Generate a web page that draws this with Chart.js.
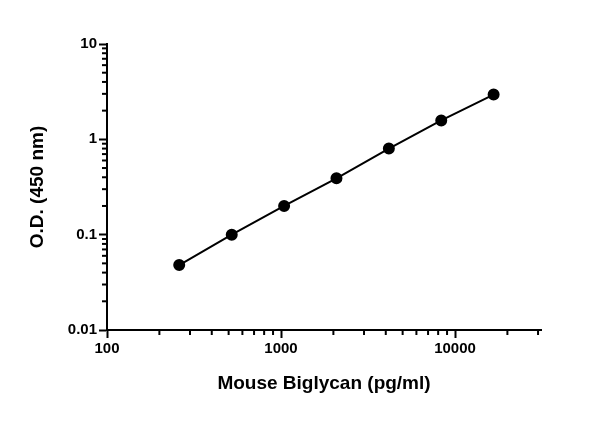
<!DOCTYPE html><html><head><script src="https://cdn.jsdelivr.net/npm/chart.js@4"></script>
<style>body{margin:0;background:#fff}#w{width:600px;height:421px}</style></head><body><div id="w"><canvas id="c"></canvas></div>
<script>
const concentrations=[260,521,1042,2083,4167,8333,16667];
const odValues=[0.048,0.1,0.2,0.39,0.8,1.58,2.95];
const xTicks=[100,1000,10000];
const yTicks=[0.01,0.1,1,10];
const minorTicks={
  id:'minor',
  afterDraw(ch){
    const c=ch.ctx,x=ch.scales.x,y=ch.scales.y,a=ch.chartArea;
    c.save();c.strokeStyle='#000';c.lineWidth=2;
    for(let e=2;e<5;e++)for(let m=2;m<10;m++){const v=m*Math.pow(10,e);if(v>x.max)break;const p=x.getPixelForValue(v);c.beginPath();c.moveTo(p,a.bottom);c.lineTo(p,a.bottom+5);c.stroke();}
    for(let e=-2;e<1;e++)for(let m=2;m<10;m++){const p=y.getPixelForValue(m*Math.pow(10,e));c.beginPath();c.moveTo(a.left,p);c.lineTo(a.left-5,p);c.stroke();}
    c.restore();
  }};
const font={family:'Liberation Sans',weight:'bold',size:15};
const grid={display:true,drawOnChartArea:false,drawTicks:true,tickLength:8,tickColor:'#000',tickWidth:2};
new Chart(document.getElementById('c'),{type:'scatter',
 data:{datasets:[{data:concentrations.map((v,i)=>({x:v,y:odValues[i]})),showLine:true,borderColor:'#000',backgroundColor:'#000',borderWidth:2,pointRadius:5,tension:0}]},
 options:{responsive:true,maintainAspectRatio:false,animation:false,
  layout:{padding:{left:26,top:44,right:59,bottom:26}},
  plugins:{legend:{display:false},tooltip:{enabled:false}},
  scales:{
   x:{type:'logarithmic',min:100,max:31200,
    afterBuildTicks:s=>{s.ticks=xTicks.map(v=>({value:v}))},
    afterFit:s=>{s.height=65},
    border:{color:'#000',width:2},grid,
    ticks:{color:'#000',font,callback:v=>String(v),maxRotation:0,padding:2},
    title:{display:true,text:'Mouse Biglycan (pg/ml)',color:'#000',font:{family:'Liberation Sans',weight:'bold',size:19},padding:0}},
   y:{type:'logarithmic',min:0.01,max:10,
    afterBuildTicks:s=>{s.ticks=yTicks.map(v=>({value:v}))},
    afterFit:s=>{s.width=81},
    border:{color:'#000',width:2},grid,
    ticks:{color:'#000',font,callback:v=>String(v),padding:2},
    title:{display:true,text:'O.D. (450 nm)',color:'#000',font:{family:'Liberation Sans',weight:'bold',size:19},padding:0}}
  }},plugins:[minorTicks]});
</script></body></html>
